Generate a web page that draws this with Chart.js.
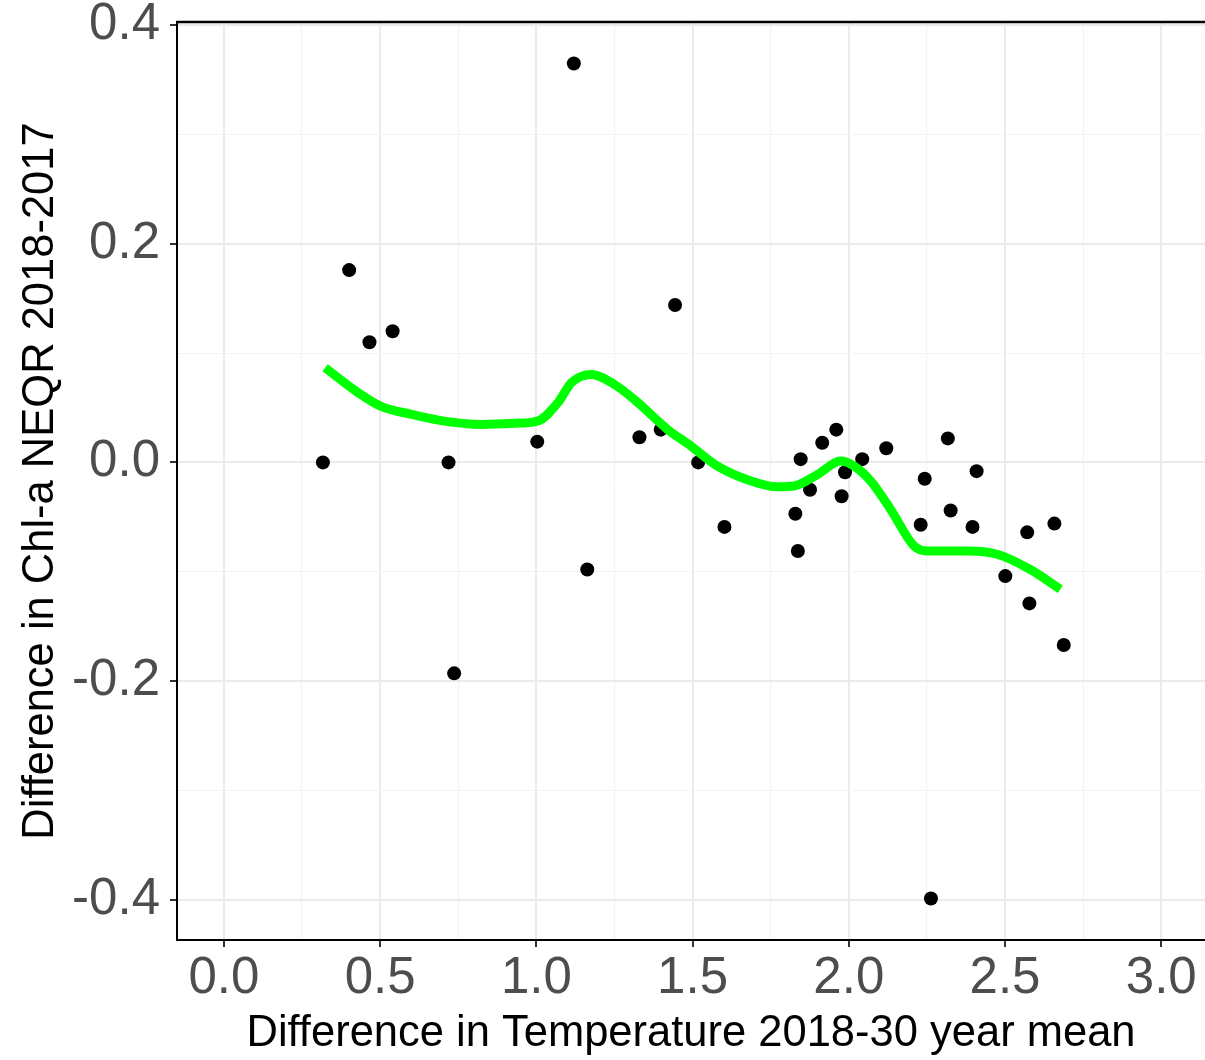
<!DOCTYPE html>
<html>
<head>
<meta charset="utf-8">
<script src="https://cdn.jsdelivr.net/npm/chart.js@4.4.1/dist/chart.umd.min.js"></script>
<style>
    html, body { margin: 0; padding: 0; background: #ffffff; overflow: hidden; }
    #wrap { width: 1205px; height: 1060px; overflow: hidden; }
</style>
</head>
<body>
<div id="wrap"><canvas id="scatter_Chart" width="1212" height="1060"></canvas></div>
<script>
// observations: temperature difference vs chl-a difference
var temp_Diff = [0.317, 0.401, 0.466, 0.540, 0.719, 0.737, 1.003, 1.120, 1.163, 1.330,
    1.398, 1.444, 1.518, 1.602, 1.829, 1.837, 1.846, 1.876, 1.915, 1.960,
    1.977, 1.988, 2.043, 2.120, 2.230, 2.243, 2.263, 2.317, 2.326, 2.396,
    2.409, 2.501, 2.571, 2.578, 2.658, 2.688];
var chl_Diff = [0.000, 0.176, 0.110, 0.120, 0.000, -0.193, 0.019, 0.365, -0.098, 0.023,
    0.030, 0.144, 0.000, -0.059, -0.047, -0.081, 0.003, -0.025, 0.018, 0.030,
    -0.031, -0.009, 0.003, 0.013, -0.057, -0.015, -0.399, 0.022, -0.044, -0.059,
    -0.008, -0.104, -0.064, -0.129, -0.056, -0.167];

// smoothed (loess) curve
var smooth_X = [0.324, 0.430, 0.505, 0.600, 0.686, 0.824, 0.950, 1.005, 1.069, 1.112,
    1.176, 1.250, 1.320, 1.421, 1.495, 1.580, 1.687, 1.772, 1.825, 1.900,
    1.974, 2.017, 2.070, 2.134, 2.209, 2.251, 2.379, 2.475, 2.581, 2.677];
var smooth_Y = [0.0866, 0.0637, 0.051, 0.044, 0.0387, 0.0347, 0.036, 0.0378, 0.0546, 0.0729,
    0.0805, 0.0713, 0.056, 0.030, 0.015, -0.0034, -0.017, -0.0223, -0.0216, -0.011,
    0.0012, -0.0034, -0.017, -0.043, -0.0765, -0.081, -0.081, -0.084, -0.098, -0.116];

// axis ticks
var x_Major = [0.0, 0.5, 1.0, 1.5, 2.0, 2.5, 3.0];
var x_Minor = [0.25, 0.75, 1.25, 1.75, 2.25, 2.75];
var y_Major = [-0.4, -0.2, 0.0, 0.2, 0.4];
var y_Minor = [-0.3, -0.1, 0.1, 0.3];

var x_Title = "Difference in Temperature 2018-30 year mean";
var y_Title = "Difference in Chl-a NEQR 2018-2017";

function isMajor(list, v) {
    for (var i = 0; i < list.length; i++) {
        if (Math.abs(list[i] - v) < 1e-9) return true;
    }
    return false;
}

function buildTicks(major, minor) {
    return major.concat(minor).sort(function (a, b) { return a - b; })
        .map(function (v) { return { value: v }; });
}

var point_Data = [];
for (var i = 0; i < temp_Diff.length; i++) {
    point_Data.push({ x: temp_Diff[i], y: chl_Diff[i] });
}
var smooth_Data = [];
for (var j = 0; j < smooth_X.length; j++) {
    smooth_Data.push({ x: smooth_X[j], y: smooth_Y[j] });
}

// top border of the panel
var topBorder = {
    id: 'topBorder',
    afterDraw: function (chart) {
        var a = chart.chartArea;
        var ctx = chart.ctx;
        ctx.save();
        ctx.strokeStyle = '#000000';
        ctx.lineWidth = 2.5;
        ctx.beginPath();
        ctx.moveTo(a.left - 1, a.top);
        ctx.lineTo(a.right, a.top);
        ctx.stroke();
        ctx.restore();
    }
};

var tick_Font = { family: "'Liberation Sans', Arial, sans-serif", size: 51 };
var title_Font = { family: "'Liberation Sans', Arial, sans-serif", size: 43.5 };

var ctxP = document.getElementById("scatter_Chart").getContext('2d');
var scatter_Chart = new Chart(ctxP, {
    type: 'scatter',
    data: {
        datasets: [{
            data: smooth_Data,
            showLine: true,
            borderColor: '#00ff00',
            borderWidth: 9,
            pointRadius: 0,
            cubicInterpolationMode: 'monotone',
            order: 0
        }, {
            data: point_Data,
            backgroundColor: '#000000',
            borderWidth: 0,
            pointRadius: 7,
            order: 1
        }]
    },
    options: {
        responsive: false,
        animation: false,
        devicePixelRatio: 1,
        layout: { padding: { top: 22, left: 0, right: 0, bottom: 0 } },
        plugins: {
            legend: { display: false },
            tooltip: { enabled: false }
        },
        scales: {
            x: {
                type: 'linear',
                min: -0.15,
                max: 3.14,
                afterBuildTicks: function (scale) { scale.ticks = buildTicks(x_Major, x_Minor); },
                afterFit: function (scale) {
                    scale.height = 120;
                    scale.paddingLeft = 0;
                    scale.paddingRight = 0;
                },
                ticks: {
                    color: '#4d4d4d',
                    font: tick_Font,
                    padding: 1,
                    maxRotation: 0,
                    autoSkip: false,
                    callback: function (v) { return isMajor(x_Major, v) ? v.toFixed(1) : ''; }
                },
                grid: {
                    color: function (c) { return isMajor(x_Major, c.tick.value) ? '#ebebeb' : '#f2f2f2'; },
                    lineWidth: function (c) { return isMajor(x_Major, c.tick.value) ? 2 : 1; },
                    tickColor: function (c) { return isMajor(x_Major, c.tick.value) ? '#333333' : 'rgba(0,0,0,0)'; },
                    tickWidth: 2,
                    tickLength: 7
                },
                border: { color: '#000000', width: 2 },
                title: {
                    display: true,
                    text: x_Title,
                    color: '#000000',
                    font: title_Font,
                    padding: { top: 0, bottom: 0 }
                }
            },
            y: {
                type: 'linear',
                min: -0.437,
                max: 0.403,
                afterBuildTicks: function (scale) { scale.ticks = buildTicks(y_Major, y_Minor); },
                afterFit: function (scale) {
                    scale.width = 177;
                    scale.paddingTop = 0;
                    scale.paddingBottom = 0;
                },
                ticks: {
                    color: '#4d4d4d',
                    font: tick_Font,
                    padding: 10,
                    autoSkip: false,
                    callback: function (v) { return isMajor(y_Major, v) ? v.toFixed(1) : ''; }
                },
                grid: {
                    color: function (c) { return isMajor(y_Major, c.tick.value) ? '#ebebeb' : '#f2f2f2'; },
                    lineWidth: function (c) { return isMajor(y_Major, c.tick.value) ? 2 : 1; },
                    tickColor: function (c) { return isMajor(y_Major, c.tick.value) ? '#333333' : 'rgba(0,0,0,0)'; },
                    tickWidth: 2,
                    tickLength: 7
                },
                border: { color: '#000000', width: 2 },
                title: {
                    display: true,
                    text: y_Title,
                    color: '#000000',
                    font: title_Font,
                    padding: { top: 15, bottom: 0 }
                }
            }
        }
    },
    plugins: [topBorder]
});
</script>
</body>
</html>
